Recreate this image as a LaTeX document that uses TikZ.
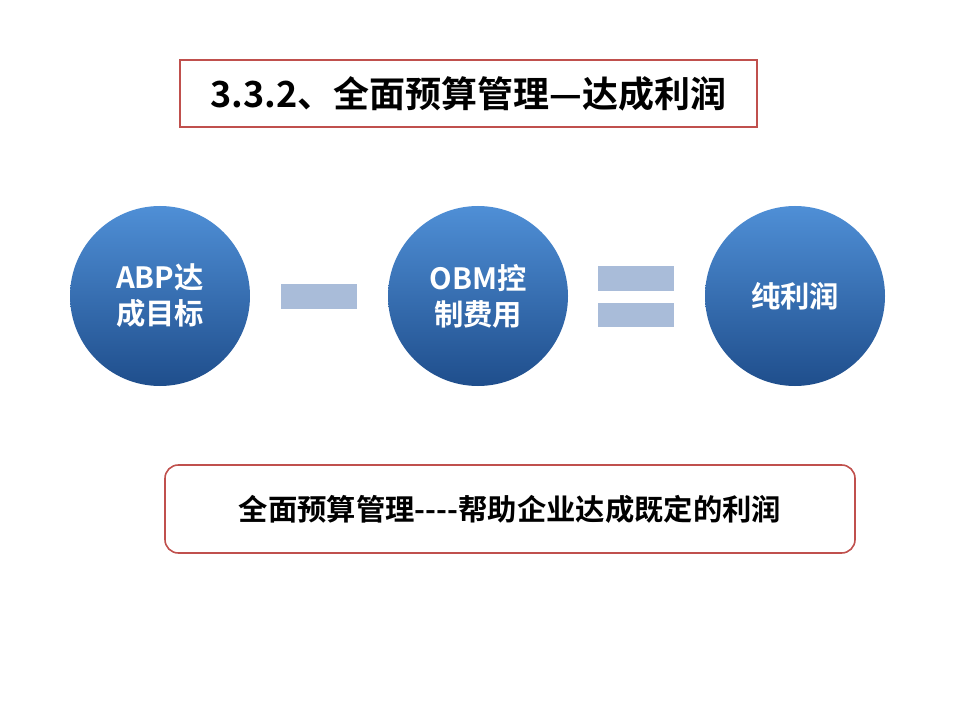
\documentclass[tikz,border=0pt]{standalone}
\usepackage{fontspec}
\setmainfont{Noto Sans CJK SC}[BoldFont={Noto Sans CJK SC Bold}]
\usetikzlibrary{positioning}
\definecolor{frame}{HTML}{C0504D}
\definecolor{ballhi}{HTML}{4F8FD6}
\definecolor{balllo}{HTML}{1F4E8C}
\definecolor{bar}{HTML}{A9BCD9}
\tikzset{ball/.style={
    circle,
    minimum size=135pt,
    top color=ballhi,
    bottom color=balllo,
    draw=none,
    text=white,
    align=center,
    font=\bfseries\fontsize{22}{27}\selectfont
}}
\tikzset{banner/.style={
    draw=frame,
    line width=1.2pt,
    fill=white,
    font=\bfseries
}}
\tikzset{barstyle/.style={fill=bar, draw=none}}

\begin{document}
\begin{tikzpicture}[x=0.75pt, y=-0.75pt]
        \useasboundingbox (0,0) rectangle (960,720);

        \node[banner, minimum width=577*0.75pt, minimum height=67*0.75pt,
              font=\bfseries\fontsize{27}{30}\selectfont]
            (title) at (468.5,93.5)
            {3.3.2、全面预算管理—达成利润};

        \node[ball] (abp) at (160,296) {ABP达\\成目标};
        \node[ball] (obm) at (478,296) {OBM控\\制费用};
        \node[ball] (profit) at (795,296) {纯利润};

        \fill[barstyle] (281,284) rectangle (357,309);
        \fill[barstyle] (598,266) rectangle (674,291);
        \fill[barstyle] (598,303) rectangle (674,327);

        \node[banner, rounded corners=10pt, minimum width=690*0.75pt,
              minimum height=88*0.75pt, font=\bfseries\fontsize{22}{26}\selectfont]
            (motto) at (510,509)
            {全面预算管理{-}{-}{-}{-}帮助企业达成既定的利润};

\end{tikzpicture}
\end{document}
